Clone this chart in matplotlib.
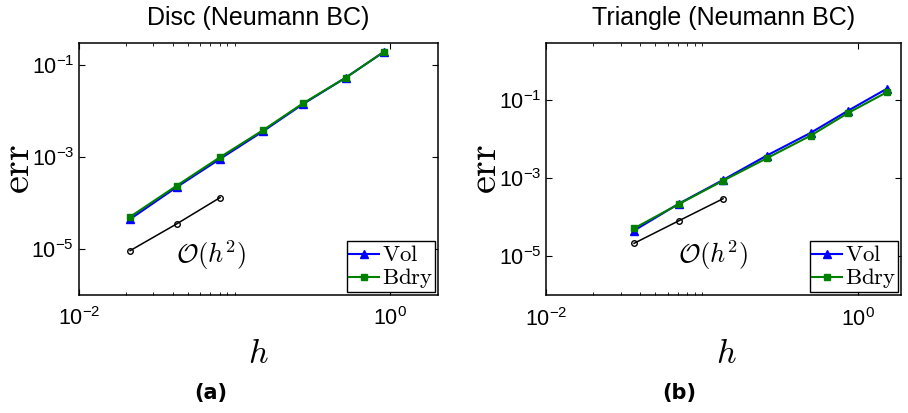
import numpy as np
import matplotlib
matplotlib.use('Agg')
import matplotlib.pyplot as plt
from matplotlib.ticker import FixedLocator, FuncFormatter, NullFormatter

# ---- data ----
h_disc    = [0.0213, 0.0425, 0.0807, 0.152, 0.275, 0.519, 0.914]
vol_disc  = [4.46e-5, 2.22e-4, 9.1e-4, 3.6e-3, 1.41e-2, 5.31e-2, 1.94e-1]
bdry_disc = [5.0e-5, 2.38e-4, 9.9e-4, 3.8e-3, 1.46e-2, 5.31e-2, 1.94e-1]
href_disc = [0.0213, 0.0425, 0.0807]
ref_disc  = [9.2e-6, 3.52e-5, 1.31e-4]

h_tri    = [0.0365, 0.071, 0.136, 0.259, 0.495, 0.863, 1.52]
vol_tri  = [4.56e-5, 2.25e-4, 9.1e-4, 3.82e-3, 1.46e-2, 5.44e-2, 1.96e-1]
bdry_tri = [5.2e-5, 2.2e-4, 8.7e-4, 3.26e-3, 1.24e-2, 4.75e-2, 1.6e-1]
href_tri = [0.0365, 0.071, 0.136]
ref_tri  = [2.15e-5, 8.2e-5, 3.0e-4]

titles   = ['Disc (Neumann BC)', 'Triangle (Neumann BC)']
captions = ['(a)', '(b)']
labels   = [r'$\mathrm{Vol}$', r'$\mathrm{Bdry}$']
xmajor   = [1e-2, 1e0]
xminor   = [k * 1e-2 for k in range(2, 11)]
ymajor   = [1e-5, 1e-3, 1e-1]

params = {'font.family': ['Liberation Sans', 'DejaVu Sans'],
          'mathtext.fontset': 'cm',
          'axes.linewidth': 1.1,
          'xtick.direction': 'in',
          'ytick.direction': 'in',
          'xtick.top': True,
          'ytick.right': True,
          'xtick.labelsize': 15.5,
          'ytick.labelsize': 15.5,
          'axes.unicode_minus': True}
plt.rcParams.update(params)


def sci(v, pos):
    return r'$\mathregular{10^{%d}}$' % int(round(np.log10(v)))


def set_fig():
    fig = plt.figure(figsize=(9.08, 4.13), dpi=100)
    ax1 = fig.add_axes([0.0870, 0.2857, 0.3954, 0.6102])
    ax2 = fig.add_axes([0.6017, 0.2850, 0.3909, 0.6116])
    return fig, ax1, ax2


def set_ax(ax, h, vol, bdry, href, ref, xlim, ylim, title, txt_pos):
    ax.set_xscale('log')
    ax.set_yscale('log')
    ax.plot(h, vol, '-^', color='#0000ff', lw=1.5, ms=5.5, label=labels[0])
    ax.plot(h, bdry, '-s', color='#008000', lw=1.5, ms=3.8, label=labels[1])
    ax.plot(href, ref, '-o', color='black', lw=1.1, ms=4,
            mfc='none', mew=1.0)
    ax.text(txt_pos[0], txt_pos[1], r'$\mathcal{O}(h^2)$', fontsize=19,
            transform=ax.transAxes, ha='left', va='center')

    ax.set_xlim(xlim)
    ax.set_ylim(ylim)
    ax.xaxis.set_major_locator(FixedLocator(xmajor))
    ax.xaxis.set_minor_locator(FixedLocator(xminor))
    ax.xaxis.set_major_formatter(FuncFormatter(sci))
    ax.xaxis.set_minor_formatter(NullFormatter())
    ax.yaxis.set_major_locator(FixedLocator(ymajor))
    ax.yaxis.set_minor_locator(FixedLocator([]))
    ax.yaxis.set_major_formatter(FuncFormatter(sci))
    ax.tick_params(which='major', length=4, width=0.8)
    ax.tick_params(which='minor', length=2.5, width=0.6)
    ax.tick_params(axis='y', pad=3.5)
    ax.tick_params(axis='x', pad=9)

    ax.set_title(title, fontsize=18, pad=13)

    leg = ax.legend(loc='lower right', fontsize=16.5, fancybox=False,
                    framealpha=1, edgecolor='black', labelspacing=0.0,
                    handleheight=0.4, borderpad=0.08, handlelength=1.3,
                    handletextpad=0.12, borderaxespad=0.14)
    leg.get_frame().set_linewidth(1.0)


def draw():
    fig, ax1, ax2 = set_fig()
    set_ax(ax1, h_disc, vol_disc, bdry_disc, href_disc, ref_disc,
           (1e-2, 2.03), (1e-6, 0.3), titles[0], (0.270, 0.159))
    set_ax(ax2, h_tri, vol_tri, bdry_tri, href_tri, ref_tri,
           (1e-2, 1.89), (1e-6, 3.0), titles[1], (0.371, 0.160))

    # axis labels and sub-captions placed in figure coordinates
    for x in (18 / 908, 485 / 908):
        fig.text(x, 0.591, r'$\mathrm{err}$', fontsize=29, rotation=90,
                 ha='center', va='center')
    for x in (258 / 908, 726.5 / 908):
        fig.text(x, 0.1218, r'$h$', fontsize=24.5, ha='center',
                 va='baseline')
    for x, c in zip((210.5 / 908, 679 / 908), captions):
        fig.text(x, 0.0484, c, fontsize=15, fontweight='bold',
                 family='DejaVu Sans', ha='center', va='center')

    plt.savefig('out.png', dpi=100)
    plt.close(fig)


if __name__ == '__main__':
    draw()
